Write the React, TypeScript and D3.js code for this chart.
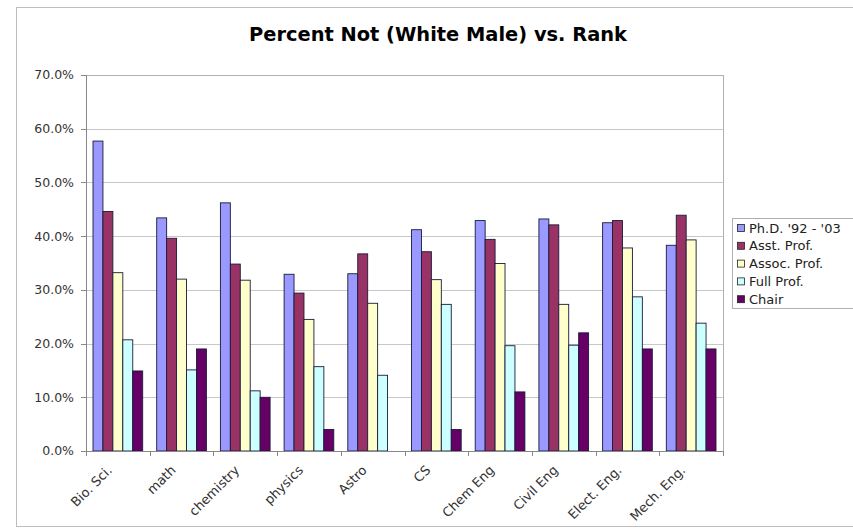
import React from "react";
import * as d3 from "d3";

const categories = ["Bio. Sci.", "math", "chemistry", "physics", "Astro", "CS", "Chem Eng", "Civil Eng", "Elect. Eng.", "Mech. Eng."];
const seriesNames = ["Ph.D. '92 - '03", "Asst. Prof.", "Assoc. Prof.", "Full Prof.", "Chair"];
const phd = [57.7, 43.4, 46.2, 32.9, 33.0, 41.2, 42.9, 43.2, 42.5, 38.3];
const asst = [44.6, 39.6, 34.8, 29.4, 36.7, 37.1, 39.4, 42.1, 42.9, 43.9];
const assoc = [33.2, 32.0, 31.8, 24.5, 27.5, 31.9, 34.9, 27.3, 37.8, 39.3];
const full = [20.7, 15.1, 11.2, 15.7, 14.1, 27.3, 19.6, 19.7, 28.7, 23.8];
const chair = [14.9, 19.0, 10.0, 4.0, 0, 4.0, 11.0, 22.0, 19.0, 19.0];
const yTicks = [0, 10, 20, 30, 40, 50, 60, 70];
const colors = ["#9999FF", "#993366", "#FFFFCC", "#CCFFFF", "#660066"];

const series = [phd, asst, assoc, full, chair];

export default function App() {
  const W = 853, H = 529;
  const left = 86, right = 723, top = 75, bottom = 451;
  const x = d3.scaleBand<string>().domain(categories).range([left, right]).paddingInner(0.22).paddingOuter(0.11);
  const slot = d3.scaleBand<number>().domain(d3.range(series.length)).range([0, x.bandwidth()]);
  const xc = d3.scaleBand<string>().domain(categories).range([left, right]);
  const y = d3.scaleLinear().domain([0, 70]).range([bottom, top]);
  const font = "'DejaVu Sans', Verdana, sans-serif";

  return (
    <svg width={W} height={H} style={{ position: "absolute", left: 0, top: 0, background: "#fff" }} fontFamily={font}>
      <rect x={16.5} y={7.5} width={850} height={519} fill="#fff" stroke="#bdbdbd" />
      <text x={438} y={41} textAnchor="middle" fontSize={19.5} fontWeight="bold" fill="#000" textLength={378} lengthAdjust="spacingAndGlyphs">Percent Not (White Male) vs. Rank</text>
      {/* gridlines */}
      {yTicks.map((t) => (
        <line key={"g" + t} x1={left} x2={right} y1={Math.round(y(t)) + 0.5} y2={Math.round(y(t)) + 0.5} stroke="#c8c8c8" />
      ))}
      <rect x={left + 0.5} y={top + 0.5} width={right - left} height={bottom - top} fill="none" stroke="#b0b0b0" />
      {/* bars */}
      {series.map((vals, si) => (
        <g key={"s" + si}>
          {categories.map((c, ci) =>
            vals[ci] > 0 ? (
              <rect key={c} x={(x(c) as number) + (slot(si) as number)} y={y(vals[ci])} width={slot.bandwidth()} height={y(0) - y(vals[ci])}
                fill={colors[si]} stroke="#1a1a3a" strokeWidth={0.9} />
            ) : null
          )}
        </g>
      ))}
      {/* y axis */}
      <line x1={left + 0.5} x2={left + 0.5} y1={top} y2={bottom} stroke="#888" />
      {yTicks.map((t) => (
        <g key={"t" + t}>
          <line x1={left - 5} x2={left} y1={Math.round(y(t)) + 0.5} y2={Math.round(y(t)) + 0.5} stroke="#888" />
          <text x={left - 12} y={y(t)} dy="0.35em" textAnchor="end" fontSize={12.5} fill="#333">{t.toFixed(1)}%</text>
        </g>
      ))}
      {/* x axis */}
      <line x1={left} x2={right} y1={bottom + 0.5} y2={bottom + 0.5} stroke="#888" />
      {categories.map((c, i) => (
        <line key={"xt" + i} x1={Math.round(xc(c) as number) + 0.5} x2={Math.round(xc(c) as number) + 0.5} y1={bottom} y2={bottom + 5} stroke="#888" />
      ))}
      <line x1={right + 0.5} x2={right + 0.5} y1={bottom} y2={bottom + 5} stroke="#888" />
      {categories.map((c) => {
        const cx = (xc(c) as number) + xc.bandwidth() / 2 - 5;
        const cy = bottom + 20;
        return (
          <text key={"xl" + c} x={cx} y={cy} transform={`rotate(-45 ${cx} ${cy})`} textAnchor="end" fontSize={13} fill="#333">{c}</text>
        );
      })}
      {/* legend */}
      <rect x={732.5} y={218.5} width={130} height={90} fill="#fff" stroke="#b0b0b0" />
      {seriesNames.map((n, i) => (
        <g key={"l" + i}>
          <rect x={737.5} y={224.5 + i * 17.8} width={7} height={7} fill={colors[i]} stroke="#222" strokeWidth={0.8} />
          <text x={749} y={228 + i * 17.8} dy="0.35em" fontSize={13} fill="#222">{n}</text>
        </g>
      ))}
    </svg>
  );
}
